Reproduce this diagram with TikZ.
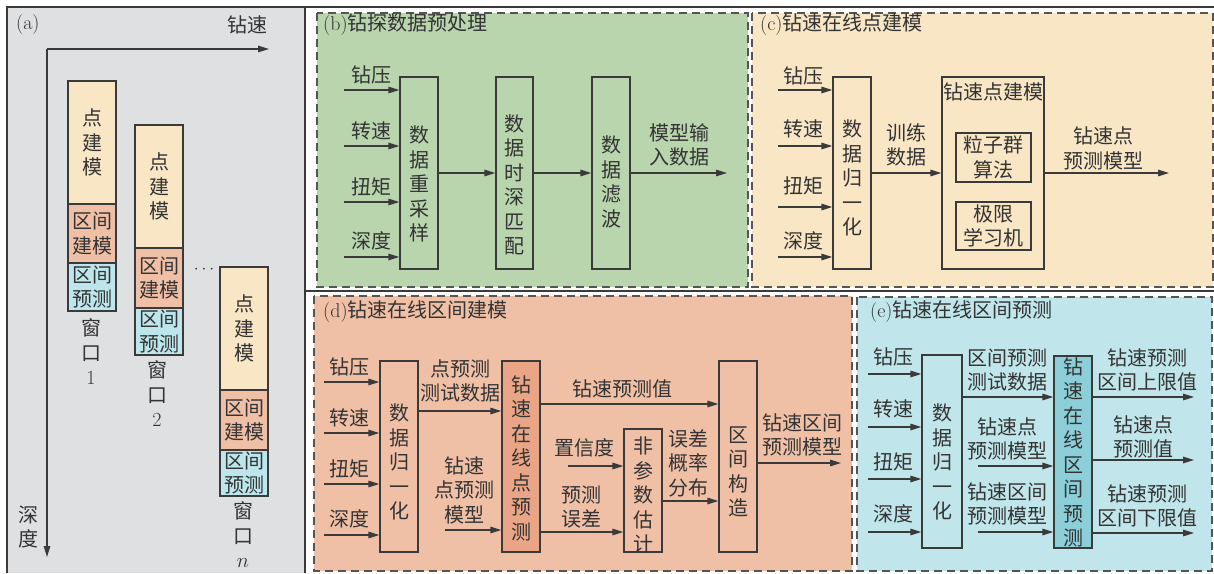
\documentclass[tikz,border=0pt]{standalone}
\usepackage{fontspec}
\newfontfamily\cjk{Noto Sans CJK SC}
\usetikzlibrary{arrows.meta,calc}
\definecolor{lc}{HTML}{3A3A3A}
\definecolor{dc}{HTML}{555555}
\definecolor{tc}{HTML}{333333}
\definecolor{grayA}{HTML}{DFE0E2}
\definecolor{greenB}{HTML}{B8D5AE}
\definecolor{creamC}{HTML}{F9E6C5}
\definecolor{salmonD}{HTML}{F0C0A6}
\definecolor{darkD}{HTML}{E9A586}
\definecolor{blueE}{HTML}{C0E5EA}
\definecolor{tealE}{HTML}{8CCFD8}
\definecolor{winB}{HTML}{BDE6EC}
\tikzset{
  ln/.style={draw=lc, line width=1.3pt},
  arr/.style={draw=lc, line width=1.3pt, -{Triangle[length=11pt,width=6.5pt]}},
  box/.style={draw=lc, line width=1.3pt, inner sep=0pt},
  panel/.style={draw=dc, line width=1.4pt, dash pattern=on 8pt off 5pt},
  tx/.style={font=\cjk\fontsize{20}{24.5}\selectfont, align=center, inner sep=0pt, text=tc},
  win/.style={box, tx, minimum width=48pt},
}
\begin{document}
\begin{tikzpicture}[x=1pt,y=-1pt]
\useasboundingbox (0,0) rectangle (1214,573);
\fill[white] (0,0) rectangle (1214,573);
% ---------- frame and panel (a) background
\fill[grayA] (7,7) rectangle (305,573);
\draw[ln] (7,573) -- (7,7) -- (1214,7);
\draw[ln] (305,7) -- (305,573);
\draw[ln] (305,291) -- (1214,291);
% ---------- panels
\path[panel, fill=greenB] (317,13) rectangle (748,287);
\path[panel, fill=creamC] (752,13) rectangle (1213,287);
\path[panel, fill=salmonD] (314,296) rectangle (852,571);
\path[panel, fill=blueE] (857,297) rectangle (1212,571);

% ================= (a)
\node[tx, anchor=west] (ta) at (16,25) {{\rmfamily(a)}};
\node[tx] (axlab) at (247,25) {钻速};
\node[tx] (aylab) at (28,527) {深\\度};
\coordinate (ao) at (47,49);
\coordinate (ax) at (269,49);
\coordinate (ay) at (47,557);
\draw[arr] (ao) -- (ax);
\draw[arr] (ao) -- (ay);
% window 1
\node[win, fill=creamC, minimum height=123pt] (w1a) at (92,142.5) {点\\建\\模};
\node[win, fill=salmonD, minimum height=59pt] (w1b) at (92,233.5) {区间\\建模};
\node[win, fill=winB, minimum height=48pt] (w1c) at (92,287) {区间\\预测};
\node[tx] (w1l) at (91,352) {窗\\口\\{\rmfamily 1}};
% window 2
\node[win, fill=creamC, minimum height=123pt] (w2a) at (159,186.5) {点\\建\\模};
\node[win, fill=salmonD, minimum height=60pt] (w2b) at (159,278) {区间\\建模};
\node[win, fill=winB, minimum height=47pt] (w2c) at (159,331.5) {区间\\预测};
\node[tx] (w2l) at (157,394) {窗\\口\\{\rmfamily 2}};
% dots
\node[font=\fontsize{18}{20}\selectfont, text=tc, inner sep=0pt] (dots) at (204,270) {$\cdots$};
% window n
\node[win, fill=creamC, minimum height=123pt] (wna) at (244,328.5) {点\\建\\模};
\node[win, fill=salmonD, minimum height=60pt] (wnb) at (244,420) {区间\\建模};
\node[win, fill=winB, minimum height=46pt] (wnc) at (244,473) {区间\\预测};
\node[tx] (wnl) at (243,535) {窗\\口\\{\rmfamily $n$}};

% ================= (b)
\node[tx, anchor=west] (tb) at (323,25) {{\rmfamily(b)}钻探数据预处理};
\node[box, minimum width=38pt, minimum height=192pt] (b1) at (419,173) {};
\node[tx] (b1t) at (419,184) {数\\据\\重\\采\\样};
\node[box, minimum width=37pt, minimum height=192pt] (b2) at (514.5,173) {};
\node[tx] (b2t) at (514.5,185) {数\\据\\时\\深\\匹\\配};
\node[box, minimum width=38pt, minimum height=192pt] (b3) at (611,173) {};
\node[tx] (b3t) at (611,182) {数\\据\\滤\\波};
\coordinate (bi1) at (344,90);
\coordinate (bi2) at (344,146);
\coordinate (bi3) at (344,202);
\coordinate (bi4) at (344,257);
\node[tx] (bl1) at (371,75) {钻压};
\node[tx] (bl2) at (371,131) {转速};
\node[tx] (bl3) at (371,187) {扭矩};
\node[tx] (bl4) at (371,241) {深度};
\foreach \i in {1,2,3,4} {\draw[arr] (bi\i) -- (bi\i -| b1.west);}
\draw[arr] (b1.east) -- (b2.west);
\draw[arr] (b2.east) -- (b3.west);
\coordinate (bout) at (727,173);
\draw[arr] (b3.east) -- (bout);
\node[tx] (bol) at (679,145) {模型输\\入数据};

% ================= (c)
\node[tx, anchor=west] (tcx) at (760,25) {{\rmfamily(c)}钻速在线点建模};
\node[box, minimum width=38pt, minimum height=192pt] (c1) at (852,173) {};
\node[tx] (c1t) at (852,178) {数\\据\\归\\一\\化};
\coordinate (ci1) at (778,90);
\coordinate (ci2) at (778,146);
\coordinate (ci3) at (778,207);
\coordinate (ci4) at (778,257);
\node[tx] (cl1) at (803,76) {钻压};
\node[tx] (cl2) at (803,129) {转速};
\node[tx] (cl3) at (803,186) {扭矩};
\node[tx] (cl4) at (803,241) {深度};
\foreach \i in {1,2,3,4} {\draw[arr] (ci\i) -- (ci\i -| c1.west);}
\node[box, minimum width=102pt, minimum height=192pt] (c2) at (993,173) {};
\node[tx] (c2t) at (993,92) {钻速点建模};
\node[box, tx, minimum width=75pt, minimum height=49pt] (c3) at (993.5,157.5) {粒子群\\算法};
\node[box, tx, minimum width=75pt, minimum height=48pt] (c4) at (993.5,226) {极限\\学习机};
\draw[arr] (c1.east) -- (c2.west);
\node[tx] (cml) at (906,145) {训练\\数据};
\coordinate (cout) at (1169,173);
\draw[arr] (c2.east) -- (cout);
\node[tx] (col) at (1103,148.5) {钻速点\\预测模型};

% ================= (d)
\node[tx, anchor=west] (td) at (323,312) {{\rmfamily(d)}钻速在线区间建模};
\node[box, minimum width=38pt, minimum height=191pt] (d1) at (399,456.5) {};
\node[tx] (d1t) at (399,462) {数\\据\\归\\一\\化};
\node[box, fill=darkD, minimum width=38pt, minimum height=191pt] (d2) at (521,456.5) {};
\node[tx] (d2t) at (521,458) {钻\\速\\在\\线\\点\\预\\测};
\node[box, minimum width=38pt, minimum height=123pt] (d3) at (643,490.5) {};
\node[tx] (d3t) at (643,495) {非\\参\\数\\估\\计};
\node[box, minimum width=38pt, minimum height=191pt] (d4) at (738,456.5) {};
\node[tx] (d4t) at (738,472) {区\\间\\构\\造};
\coordinate (di1) at (324,382);
\coordinate (di2) at (324,433);
\coordinate (di3) at (324,484);
\coordinate (di4) at (324,535);
\node[tx] (dl1) at (349,367) {钻压};
\node[tx] (dl2) at (349,418) {转速};
\node[tx] (dl3) at (349,469) {扭矩};
\node[tx] (dl4) at (349,519) {深度};
\foreach \i in {1,2,3,4} {\draw[arr] (di\i) -- (di\i -| d1.west);}
\coordinate (dy1) at (0,411);
\draw[arr] (d1.east |- dy1) -- (d2.west |- dy1);
\node[tx] (dtl) at (460,381) {点预测\\测试数据};
\coordinate (dm) at (445,530);
\draw[arr] (dm) -- (dm -| d2.west);
\node[tx] (dml) at (464,490) {钻速\\点预测\\模型};
\coordinate (dy2) at (0,404);
\draw[arr] (d2.east |- dy2) -- (d4.west |- dy2);
\node[tx] (dvl) at (622,389) {钻速预测值};
\coordinate (dc) at (568,466);
\draw[arr] (dc) -- (dc -| d3.west);
\node[tx] (dcl) at (584,448) {置信度};
\coordinate (dy3) at (0,532);
\draw[arr] (d2.east |- dy3) -- (d3.west |- dy3);
\node[tx] (del) at (581,507) {预测\\误差};
\coordinate (dy4) at (0,501);
\draw[arr] (d3.east |- dy4) -- (d4.west |- dy4);
\node[tx] (dpl) at (688,463) {误差\\概率\\分布};
\coordinate (dout) at (841,463);
\draw[arr] (d4.east |- dout) -- (dout);
\node[tx] (dol) at (802,435) {钻速区间\\预测模型};

% ================= (e)
\node[tx, anchor=west] (te) at (870,312) {{\rmfamily(e)}钻速在线区间预测};
\node[box, minimum width=40pt, minimum height=193pt] (e1) at (942,451.5) {};
\node[tx] (e1t) at (942,462) {数\\据\\归\\一\\化};
\node[box, fill=tealE, minimum width=38pt, minimum height=192pt] (e2) at (1073,452) {};
\node[tx] (e2t) at (1073,452.5) {钻\\速\\在\\线\\区\\间\\预\\测};
\coordinate (ei1) at (868,374);
\coordinate (ei2) at (868,427);
\coordinate (ei3) at (868,479);
\coordinate (ei4) at (868,532);
\node[tx] (el1) at (893,357) {钻压};
\node[tx] (el2) at (893,409) {转速};
\node[tx] (el3) at (893,462) {扭矩};
\node[tx] (el4) at (893,514) {深度};
\foreach \i in {1,2,3,4} {\draw[arr] (ei\i) -- (ei\i -| e1.west);}
\coordinate (ey1) at (0,397);
\draw[arr] (e1.east |- ey1) -- (e2.west |- ey1);
\node[tx] (etl) at (1007,370) {区间预测\\测试数据};
\coordinate (em1) at (978,466);
\draw[arr] (em1) -- (em1 -| e2.west);
\node[tx] (eml1) at (1007,439) {钻速点\\预测模型};
\coordinate (em2) at (978,532);
\draw[arr] (em2) -- (em2 -| e2.west);
\node[tx] (eml2) at (1007,504) {钻速区间\\预测模型};
\coordinate (eo1) at (1194,397);
\coordinate (eo2) at (1194,460);
\coordinate (eo3) at (1194,533);
\draw[arr] (e2.east |- eo1) -- (eo1);
\draw[arr] (e2.east |- eo2) -- (eo2);
\draw[arr] (e2.east |- eo3) -- (eo3);
\node[tx] (eol1) at (1147,370) {钻速预测\\区间上限值};
\node[tx] (eol2) at (1143,437) {钻速点\\预测值};
\node[tx] (eol3) at (1147,506) {钻速预测\\区间下限值};
\end{tikzpicture}
\end{document}
